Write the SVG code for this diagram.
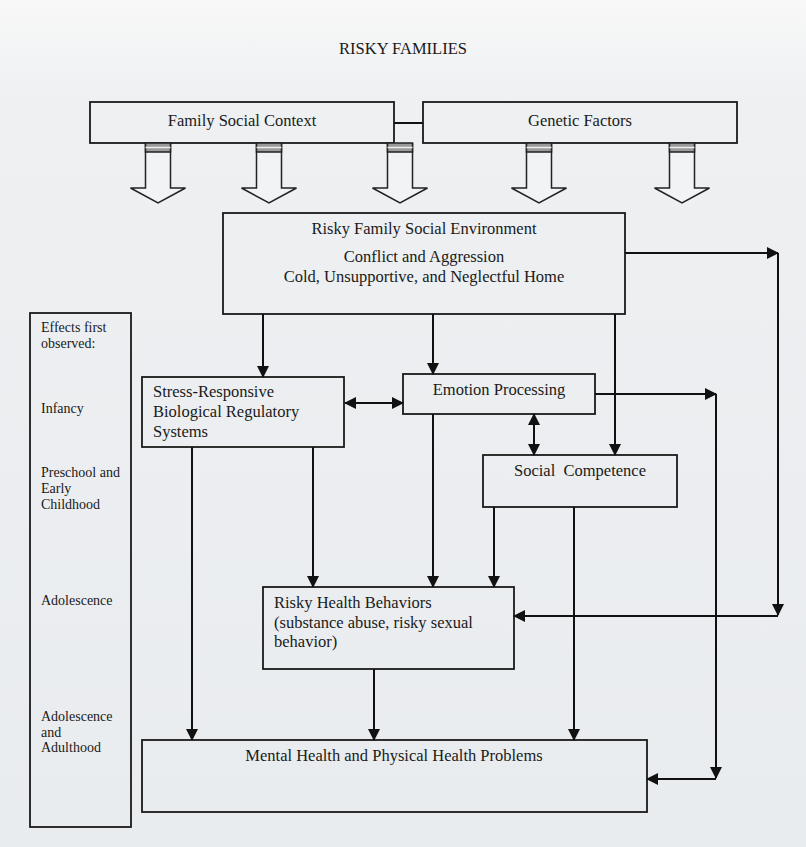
<svg xmlns="http://www.w3.org/2000/svg" width="806" height="847" viewBox="0 0 806 847">
<defs>
<linearGradient id="bg" x1="0" y1="0" x2="0" y2="1">
<stop offset="0" stop-color="#f8f8f8"/>
<stop offset="0.12" stop-color="#eef0f2"/>
<stop offset="1" stop-color="#e9ecef"/>
</linearGradient>
<marker id="ah" markerUnits="userSpaceOnUse" markerWidth="12" markerHeight="12" viewBox="0 0 12 12" refX="11" refY="6" orient="auto-start-reverse">
<path d="M0,0 L12,6 L0,12 Z" fill="#111"/>
</marker>
<g id="hollow">
<path d="M-12.5,0 V45 H-27.5 L0,60 L27.5,45 H12.5 V0" fill="#f2f3f4" stroke="#222" stroke-width="1.5"/>
<rect x="-12.5" y="0" width="25" height="9" fill="#9a9a9a" stroke="#222" stroke-width="1.5"/>
<line x1="-12.5" y1="4.5" x2="12.5" y2="4.5" stroke="#eee" stroke-width="1.5"/>
</g>
</defs>
<style>
.box{fill:none;stroke:#1a1a1a;stroke-width:1.8}
.t{font-family:"Liberation Serif","Times New Roman",serif;font-size:16.5px;fill:#1a1a1a}
.s{font-family:"Liberation Serif","Times New Roman",serif;font-size:14px;fill:#1a1a1a}
.c{text-anchor:middle}
.ln{fill:none;stroke:#111;stroke-width:2}
.a{marker-end:url(#ah)}
.d{marker-start:url(#ah);marker-end:url(#ah)}
</style>
<rect x="0" y="0" width="806" height="847" fill="url(#bg)"/>
<text class="t c" x="403" y="54" font-size="16">RISKY FAMILIES</text>

<g id="family-social-context">
<rect class="box" x="90" y="102" width="304" height="41"/>
<text class="t c" x="242" y="126">Family Social Context</text>
</g>
<g id="genetic-factors">
<rect class="box" x="423" y="102" width="314" height="41"/>
<text class="t c" x="580" y="126">Genetic Factors</text>
</g>
<g id="hollow-arrows">
<use href="#hollow" x="158" y="143"/>
<use href="#hollow" x="269" y="143"/>
<use href="#hollow" x="400" y="143"/>
<use href="#hollow" x="539" y="143"/>
<use href="#hollow" x="682" y="143"/>
</g>
<g id="risky-family-environment">
<rect class="box" x="223" y="213" width="402" height="101"/>
<text class="t c" x="424" y="234">Risky Family Social Environment</text>
<text class="t c" x="424" y="262">Conflict and Aggression</text>
<text class="t c" x="424" y="282">Cold, Unsupportive, and Neglectful Home</text>
</g>
<g id="effects-column">
<rect class="box" x="30" y="313" width="101" height="514"/>
<text class="s" x="41" y="332">Effects first</text>
<text class="s" x="41" y="348">observed:</text>
<text class="s" x="41" y="413">Infancy</text>
<text class="s" x="41" y="477">Preschool and</text>
<text class="s" x="41" y="493">Early</text>
<text class="s" x="41" y="509">Childhood</text>
<text class="s" x="41" y="605">Adolescence</text>
<text class="s" x="41" y="721">Adolescence</text>
<text class="s" x="41" y="737">and</text>
<text class="s" x="41" y="752">Adulthood</text>
</g>
<g id="stress-responsive">
<rect class="box" x="142" y="377" width="202" height="70"/>
<text class="t" x="153" y="397">Stress-Responsive</text>
<text class="t" x="153" y="417">Biological Regulatory</text>
<text class="t" x="153" y="437">Systems</text>
</g>
<g id="emotion-processing">
<rect class="box" x="403" y="374" width="192" height="40"/>
<text class="t c" x="499" y="395">Emotion Processing</text>
</g>
<g id="social-competence">
<rect class="box" x="483" y="455" width="194" height="52"/>
<text class="t c" x="580" y="476" xml:space="preserve">Social  Competence</text>
</g>
<g id="risky-health-behaviors">
<rect class="box" x="263" y="587" width="251" height="82"/>
<text class="t" x="274" y="608">Risky Health Behaviors</text>
<text class="t" x="274" y="628">(substance abuse, risky sexual</text>
<text class="t" x="274" y="647">behavior)</text>
</g>
<g id="mental-physical-health">
<rect class="box" x="142" y="740" width="505" height="72"/>
<text class="t c" x="394" y="761">Mental Health and Physical Health Problems</text>
</g>

<g id="connectors">
<path class="ln" d="M394,123 H423"/>
<path class="ln a" d="M263,314 V377"/>
<path class="ln a" d="M433,314 V374"/>
<path class="ln a" d="M615,314 V455"/>
<path class="ln a" d="M625,253 H778"/>
<path class="ln a" d="M778,253 V615"/>
<path class="ln a" d="M778,616 H514"/>
<path class="ln d" d="M345,403 H403"/>
<path class="ln d" d="M534,414 V455"/>
<path class="ln a" d="M595,394 H716"/>
<path class="ln a" d="M716,394 V778"/>
<path class="ln a" d="M716,779 H647"/>
<path class="ln a" d="M192,447 V740"/>
<path class="ln a" d="M313,447 V587"/>
<path class="ln a" d="M433,414 V587"/>
<path class="ln a" d="M494,507 V587"/>
<path class="ln a" d="M574,507 V740"/>
<path class="ln a" d="M374,669 V740"/>
</g>
</svg>
